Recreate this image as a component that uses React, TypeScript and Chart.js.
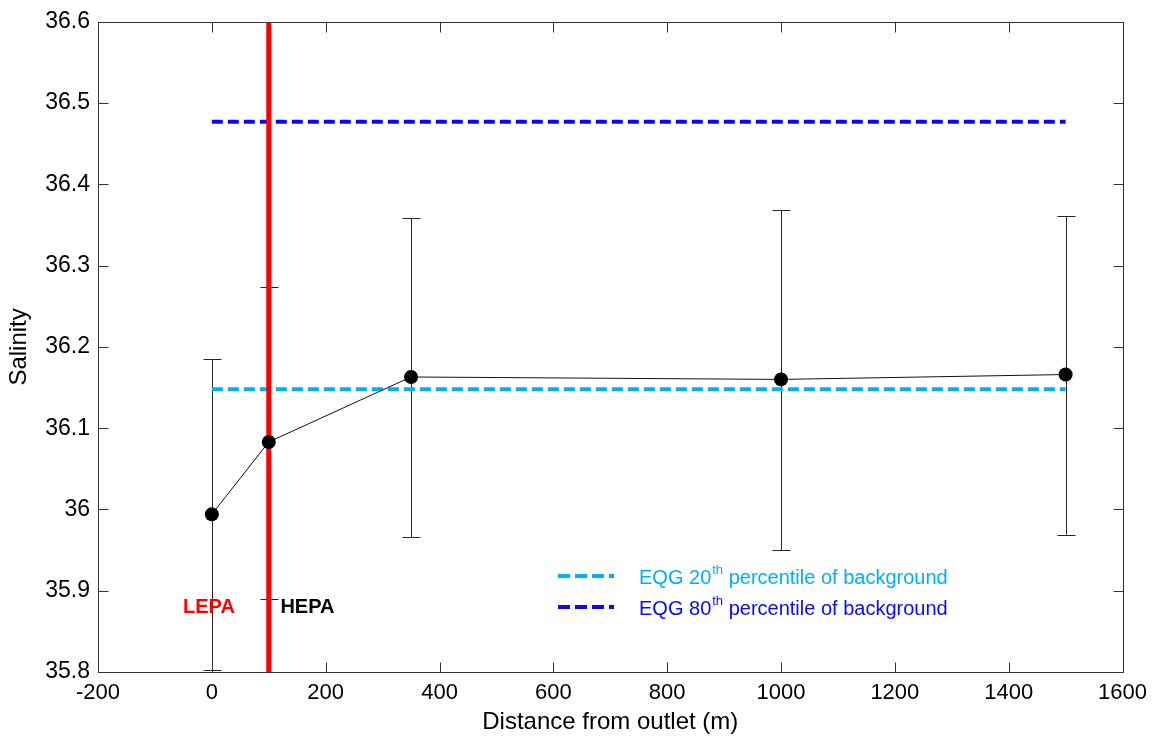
import React, { useEffect, useRef } from "react";
import { Chart, registerables } from "chart.js";

Chart.register(...registerables);

// ---- data ----
const distances = [0, 100, 350, 1000, 1500];
const salinityMean = [35.994, 36.083, 36.163, 36.16, 36.166];
const salinityLow = [35.802, 35.89, 35.966, 35.95, 35.969];
const salinityHigh = [36.185, 36.274, 36.358, 36.368, 36.361];
const eqg20Value = 36.148;
const eqg80Value = 36.477;
const eqgStart = 0;
const eqgEnd = 1500;
const hepaBoundary = 100;
const xMin = -200;
const xMax = 1600;
const xStep = 200;
const yMin = 35.8;
const yMax = 36.6;
const yStep = 0.1;
const zoneLabels = ["LEPA", "HEPA"];
const zoneLabelX = [-5, 168];
const zoneLabelY = 35.879;
const legendLabels = ["EQG 20", "EQG 80"];
const legendSup = "th";
const legendRest = " percentile of background";

const CYAN = "rgb(0,176,240)";
const BLUE = "rgb(10,10,245)";
const RED = "rgb(255,0,0)";
const FONT = "'Liberation Sans', Arial, Helvetica, sans-serif";

const overlayPlugin = {
  id: "matlabOverlay",
  beforeDatasetsDraw(chart: any) {
    const { ctx, scales } = chart;
    const xs = scales.x;
    const ys = scales.y;
    // error bars
    ctx.save();
    ctx.strokeStyle = "#262626";
    ctx.lineWidth = 1;
    for (let i = 0; i < distances.length; i++) {
      const px = Math.round(xs.getPixelForValue(distances[i])) + 0.5;
      const pLo = ys.getPixelForValue(salinityLow[i]);
      const pHi = ys.getPixelForValue(salinityHigh[i]);
      ctx.beginPath();
      ctx.moveTo(px, pLo);
      ctx.lineTo(px, pHi);
      ctx.moveTo(px - 9, Math.round(pLo) + 0.5);
      ctx.lineTo(px + 9, Math.round(pLo) + 0.5);
      ctx.moveTo(px - 9, Math.round(pHi) + 0.5);
      ctx.lineTo(px + 9, Math.round(pHi) + 0.5);
      ctx.stroke();
    }
    ctx.restore();
  },
  afterDatasetsDraw(chart: any) {
    const { ctx, scales, chartArea } = chart;
    const xs = scales.x;
    const ys = scales.y;
    const { left, right, top, bottom } = chartArea;
    ctx.save();
    // frame
    ctx.strokeStyle = "#333";
    ctx.lineWidth = 1;
    const L = Math.round(left) + 0.5;
    const R = Math.round(right) + 0.5;
    const T = Math.round(top) + 0.5;
    const B = Math.round(bottom) + 0.5;
    ctx.strokeRect(L, T, R - L, B - T);
    // inward ticks
    ctx.beginPath();
    const tl = 10;
    for (let v = xMin; v <= xMax + 1e-9; v += xStep) {
      const px = Math.round(xs.getPixelForValue(v)) + 0.5;
      ctx.moveTo(px, B);
      ctx.lineTo(px, B - tl);
      ctx.moveTo(px, T);
      ctx.lineTo(px, T + tl);
    }
    for (let k = 0; k <= Math.round((yMax - yMin) / yStep); k++) {
      const v = yMin + k * yStep;
      const py = Math.round(ys.getPixelForValue(v)) + 0.5;
      ctx.moveTo(L, py);
      ctx.lineTo(L + tl, py);
      ctx.moveTo(R, py);
      ctx.lineTo(R - tl, py);
    }
    ctx.stroke();

    // zone labels
    ctx.font = `bold 20px ${FONT}`;
    ctx.textAlign = "center";
    ctx.textBaseline = "middle";
    const zoneColors = [RED, "#000"];
    for (let i = 0; i < zoneLabels.length; i++) {
      ctx.fillStyle = zoneColors[i];
      ctx.fillText(
        zoneLabels[i],
        xs.getPixelForValue(zoneLabelX[i]),
        ys.getPixelForValue(zoneLabelY)
      );
    }

    // legend
    const legendColors = [CYAN, BLUE];
    const legendY = [576, 607];
    for (let i = 0; i < legendLabels.length; i++) {
      const y = legendY[i];
      ctx.strokeStyle = legendColors[i];
      ctx.lineWidth = 4;
      ctx.setLineDash([12, 5]);
      ctx.beginPath();
      ctx.moveTo(558, y);
      ctx.lineTo(614, y);
      ctx.stroke();
      ctx.setLineDash([]);
      ctx.fillStyle = legendColors[i];
      ctx.textAlign = "left";
      ctx.textBaseline = "middle";
      ctx.font = `20px ${FONT}`;
      let x = 639;
      const ty = y + 2;
      ctx.fillText(legendLabels[i], x, ty);
      x += ctx.measureText(legendLabels[i]).width;
      ctx.font = `13px ${FONT}`;
      ctx.fillText(legendSup, x + 1, ty - 8);
      x += ctx.measureText(legendSup).width + 1;
      ctx.font = `20px ${FONT}`;
      ctx.fillText(legendRest, x, ty);
    }
    ctx.restore();
  },
};

export default function App() {
  const canvasRef = useRef<HTMLCanvasElement | null>(null);

  useEffect(() => {
    if (!canvasRef.current) return;
    const meanPts = distances.map((d, i) => ({ x: d, y: salinityMean[i] }));
    const chart = new Chart(canvasRef.current, {
      type: "line",
      data: {
        datasets: [
          {
            label: "Salinity",
            data: meanPts,
            borderColor: "#111",
            borderWidth: 1,
            pointRadius: 7,
            pointHoverRadius: 7,
            pointBackgroundColor: "#000",
            pointBorderColor: "#000",
            pointBorderWidth: 0,
            fill: false,
            tension: 0,
            order: 0,
          },
          {
            label: "HEPA boundary",
            data: [
              { x: hepaBoundary, y: yMin },
              { x: hepaBoundary, y: yMax },
            ],
            borderColor: RED,
            borderWidth: 5,
            pointRadius: 0,
            fill: false,
            order: 1,
          },
          {
            label: "EQG 20th percentile of background",
            data: [
              { x: eqgStart, y: eqg20Value },
              { x: eqgEnd, y: eqg20Value },
            ],
            borderColor: CYAN,
            borderWidth: 4,
            borderDash: [11, 5],
            pointRadius: 0,
            fill: false,
            order: 2,
          },
          {
            label: "EQG 80th percentile of background",
            data: [
              { x: eqgStart, y: eqg80Value },
              { x: eqgEnd, y: eqg80Value },
            ],
            borderColor: BLUE,
            borderWidth: 4,
            borderDash: [11, 5],
            pointRadius: 0,
            fill: false,
            order: 3,
          },
        ],
      },
      options: {
        animation: false,
        responsive: false,
        devicePixelRatio: 1,
        events: [],
        layout: { padding: { top: 20, right: 30, left: 0, bottom: 0 } },
        plugins: {
          legend: { display: false },
          tooltip: { enabled: false },
        },
        scales: {
          x: {
            type: "linear",
            min: xMin,
            max: xMax,
            afterFit: (s: any) => {
              s.height = 66;
            },
            afterBuildTicks: (s: any) => {
              const t = [];
              for (let v = xMin; v <= xMax + 1e-9; v += xStep) t.push({ value: v });
              s.ticks = t;
            },
            grid: { display: false, drawTicks: false },
            border: { display: false },
            ticks: {
              color: "#000",
              font: { family: FONT, size: 22 },
              padding: 8,
              maxRotation: 0,
              autoSkip: false,
              callback: (v: any) => String(v),
            },
            title: {
              display: true,
              text: "Distance from outlet (m)",
              color: "#000",
              font: { family: FONT, size: 24 },
              padding: { top: 0, bottom: 1 },
            },
          },
          y: {
            type: "linear",
            min: yMin,
            max: yMax,
            afterFit: (s: any) => {
              s.width = 98;
            },
            afterBuildTicks: (s: any) => {
              const t = [];
              const n = Math.round((yMax - yMin) / yStep);
              for (let k = 0; k <= n; k++) t.push({ value: +(yMin + k * yStep).toFixed(1) });
              s.ticks = t;
            },
            grid: { display: false, drawTicks: false },
            border: { display: false },
            ticks: {
              color: "#000",
              font: { family: FONT, size: 23 },
              padding: 8,
              autoSkip: false,
              callback: (v: any) => String(Number(Number(v).toFixed(1))),
            },
            title: {
              display: true,
              text: "Salinity",
              color: "#000",
              font: { family: FONT, size: 24 },
              padding: { top: 5, bottom: 0 },
            },
          },
        },
      },
      plugins: [overlayPlugin],
    } as any);
    return () => chart.destroy();
  }, []);

  return (
    <div
      style={{
        position: "fixed",
        left: 0,
        top: 0,
        width: 1155,
        height: 738,
        background: "#fff",
      }}
    >
      <canvas ref={canvasRef} width={1155} height={738} style={{ display: "block" }} />
    </div>
  );
}
